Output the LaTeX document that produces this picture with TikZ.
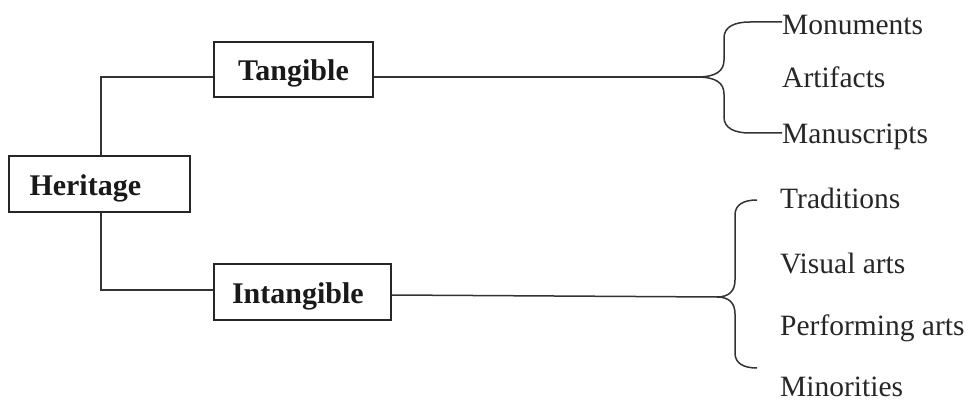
\documentclass[tikz,border=0pt]{standalone}
\usepackage{fontspec}
\setmainfont{Liberation Serif}
\begin{document}
\begin{tikzpicture}[x=1pt,y=-1pt,
  box/.style={draw=black!85,line width=1.6pt,inner sep=0pt,text=black!90,text height=24pt,text depth=1pt,font=\fontsize{30}{34}\selectfont\bfseries},
  item/.style={anchor=west,inner sep=0pt,text=black!85,font=\fontsize{29.5}{34}\selectfont},
  conn/.style={draw=black!80,line width=1.5pt}]
\useasboundingbox (0,0) rectangle (973,403);
\node[box,minimum width=181pt,minimum height=56pt,text width=140pt,align=left,inner xsep=20.5pt] (her) at (99.5,184) {Heritage};
\node[box,minimum width=159pt,minimum height=55pt] (tan) at (293.5,69.5) {Tangible};
\node[box,minimum width=177pt,minimum height=56pt,text width=169pt,align=left,inner xsep=4pt] (int) at (302.5,292) {\hspace*{14pt}Intangible};
% connectors from Heritage
\coordinate (c1) at (101,77);
\coordinate (c2) at (101,290);
\draw[conn] (her.north -| c1) -- (c1) -- (c1 -| tan.west);
\draw[conn] (her.south -| c2) -- (c2) -- (c2 -| int.west);
% Tangible brace
\coordinate (t0) at (697,77);
\draw[conn] (tan.east |- t0) -- (t0);
\node[item] (mon) at (782,25) {Monuments};
\node[item] (art) at (782,77) {Artifacts};
\node[item] (man) at (782,137) {Manuscripts};
\draw[conn] (t0) .. controls (716,77) and (724,71) .. (724,60) -- (724,38) .. controls (724,27) and (734,22) .. (750,22) -- (mon.west |- 0,22);
\draw[conn] (t0) .. controls (716,77) and (724,83) .. (724,94) -- (724,117) .. controls (724,128) and (734,133) .. (750,133) -- (man.west |- 0,133);
% Intangible brace
\coordinate (i0) at (717,297);
\draw[conn] (int.east |- 0,295) -- (i0);
\node[item] (tra) at (780,198) {Traditions};
\node[item] (vis) at (780,263) {Visual arts};
\node[item] (per) at (780,328) {Performing arts};
\node[item] (min) at (780,387) {Minorities};
\draw[conn] (i0) .. controls (729,297) and (735,291) .. (735,280) -- (735,215) .. controls (735,205) and (743,200) .. (757,200);
\draw[conn] (i0) .. controls (729,297) and (735,303) .. (735,314) -- (735,353) .. controls (735,363) and (743,368) .. (757,368);
\end{tikzpicture}
\end{document}
